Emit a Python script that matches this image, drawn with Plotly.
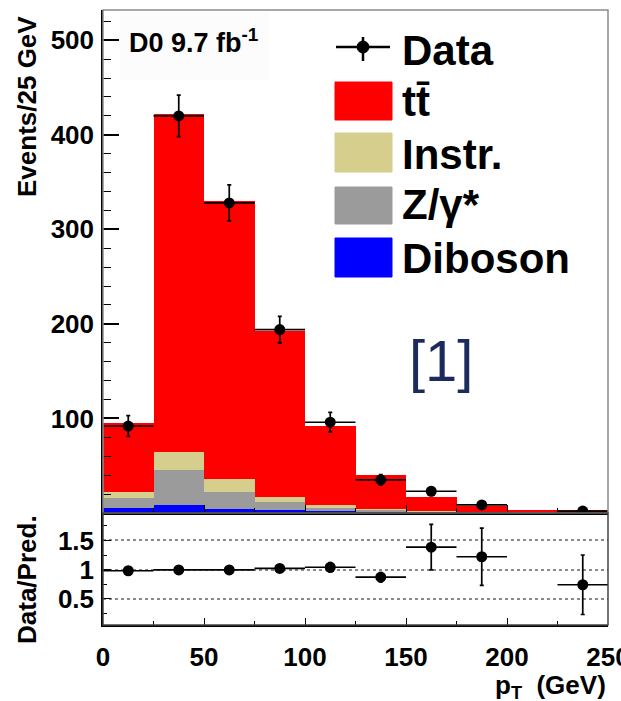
import plotly.graph_objects as go

# ---------------- data ----------------
bin_centers = [12.5, 37.5, 62.5, 87.5, 112.5, 137.5, 162.5, 187.5, 212.5, 237.5]
bin_half = [12.5] * 10

diboson = [4.8, 8.0, 4.5, 3.0, 2.0, 1.5, 0.8, 0.5, 0.3, 0.2]
zgamma = [10.6, 38.0, 17.5, 8.5, 4.0, 2.3, 1.2, 0.6, 0.3, 0.2]
instr = [6.3, 19.0, 13.5, 5.3, 2.0, 0.8, 0.5, 0.3, 0.1, 0.1]
ttbar = [73.3, 357.0, 294.5, 175.7, 84.0, 35.4, 14.5, 5.6, 2.6, 2.2]

data_x = [12.5, 37.5, 62.5, 87.5, 112.5, 137.5, 162.5, 187.5, 237.5]
data_y = [92, 420, 328, 194, 96, 35, 23, 8.5, 2]
data_err = [11, 22, 19, 14, 10.5, 5.5, 4.5, 3, 1.5]

ratio_x = [12.5, 37.5, 62.5, 87.5, 112.5, 137.5, 162.5, 187.5, 237.5]
ratio_y = [0.98, 0.995, 0.995, 1.02, 1.04, 0.87, 1.385, 1.22, 0.74]
ratio_err = [0.06, 0.05, 0.05, 0.05, 0.08, 0.08, 0.39, 0.49, 0.51]

y_ticks_top = [100, 200, 300, 400, 500]
y_ticks_ratio = [0.5, 1, 1.5]
x_ticks = [0, 50, 100, 150, 200, 250]

# ---------------- layout helpers ----------------
W, H = 621, 701
L, R, T, B = 103, 608, 10, 625  # plot area in pixels
SPLIT = 513


def px(x):
    return (x - L) / (R - L)


def py(y):
    return (B - y) / (B - T)


FONT = "Liberation Sans"
COL_RED = "#ff0000"
COL_INSTR = "#d5ce8c"
COL_Z = "#9b9b9b"
COL_DIB = "#0000ff"

fig = go.Figure()

for vals, col in [(diboson, COL_DIB), (zgamma, COL_Z), (instr, COL_INSTR), (ttbar, COL_RED)]:
    fig.add_trace(go.Bar(x=bin_centers, y=vals, width=25, marker=dict(color=col, line=dict(width=0)),
                         showlegend=False, xaxis="x", yaxis="y"))

fig.add_trace(go.Scatter(
    x=data_x, y=data_y, mode="markers", showlegend=False, xaxis="x", yaxis="y",
    marker=dict(color="black", size=11),
    error_x=dict(type="data", array=[12.5] * len(data_x), width=0, thickness=1.7, color="black"),
    error_y=dict(type="data", array=data_err, width=2, thickness=1.7, color="black"),
))

fig.add_trace(go.Scatter(
    x=ratio_x, y=ratio_y, mode="markers", showlegend=False, xaxis="x2", yaxis="y2",
    marker=dict(color="black", size=11),
    error_x=dict(type="data", array=[12.5] * len(ratio_x), width=0, thickness=1.7, color="black"),
    error_y=dict(type="data", array=ratio_err, width=2, thickness=1.7, color="black"),
))

split_frac = py(SPLIT)

tickfont = dict(family=FONT, size=26, color="black", weight="bold")

fig.update_layout(
    width=W, height=H,
    margin=dict(l=L, r=W - R, t=T, b=H - B, autoexpand=False),
    paper_bgcolor="white", plot_bgcolor="white",
    barmode="stack", bargap=0,
    xaxis=dict(domain=[0, 1], range=[0, 250], anchor="y", showticklabels=False, automargin=False,
               tickvals=x_ticks, ticks="inside", ticklen=8, tickcolor="black", tickwidth=1.2,
               minor=dict(dtick=25, ticks="inside", ticklen=5, tickcolor="black", tickwidth=1.2),
               showgrid=False, zeroline=False, showline=True, linecolor="black", linewidth=1.5),
    yaxis=dict(domain=[split_frac, 1], range=[0, 532], anchor="x", automargin=False,
               tickvals=y_ticks_top, ticks="inside", ticklen=16, tickcolor="black", tickwidth=1.5,
               minor=dict(dtick=20, ticks="inside", ticklen=8, tickcolor="black", tickwidth=1.2),
               tickfont=tickfont, ticklabelstandoff=2,
               showgrid=False, zeroline=False, showline=True, linecolor="black", linewidth=1.5),
    xaxis2=dict(domain=[0, 1], range=[0, 250], anchor="y2", matches="x", automargin=False,
                tickvals=x_ticks, ticktext=[str(v) for v in x_ticks],
                ticks="inside", ticklen=7, tickcolor="black", tickwidth=1.2,
                minor=dict(dtick=25, ticks="inside", ticklen=4, tickcolor="black", tickwidth=1.2),
                tickfont=tickfont, ticklabelstandoff=8, ticklabeloverflow="allow",
                showgrid=False, zeroline=False, showline=True, linecolor="black", linewidth=1.5),
    yaxis2=dict(domain=[0, split_frac], range=[0.05, 1.97], anchor="x2", automargin=False,
                tickvals=y_ticks_ratio, ticktext=["0.5", "1", "1.5"],
                ticks="inside", ticklen=8, tickcolor="black", tickwidth=1.2,
                minor=dict(dtick=0.25, ticks="inside", ticklen=4, tickcolor="black", tickwidth=1.0, showgrid=False),
                tickfont=tickfont, ticklabelstandoff=2,
                showgrid=True, gridcolor="#8a8a8a", griddash="dot", gridwidth=1.5,
                zeroline=False, showline=True, linecolor="black", linewidth=1.5),
)

shapes = []
# frames
shapes.append(dict(type="rect", xref="paper", yref="paper", x0=0, x1=1, y0=split_frac, y1=1,
                   line=dict(color="#8c8c8c", width=1.5), layer="above"))
shapes.append(dict(type="rect", xref="paper", yref="paper", x0=0, x1=1, y0=0, y1=split_frac,
                   line=dict(color="#444444", width=1.5), layer="above"))
# D0 label background
shapes.append(dict(type="rect", xref="paper", yref="paper", x0=px(120), x1=px(270), y0=py(80), y1=py(12),
                   fillcolor="#fcfcfc", line=dict(width=0), layer="below"))

# legend symbols
shapes.append(dict(type="line", xref="paper", yref="paper", x0=px(336), x1=px(390), y0=py(47), y1=py(47),
                   line=dict(color="black", width=2.5)))
shapes.append(dict(type="line", xref="paper", yref="paper", x0=px(363), x1=px(363), y0=py(37), y1=py(61),
                   line=dict(color="black", width=2.5)))
shapes.append(dict(type="circle", xref="paper", yref="paper", x0=px(357), x1=px(369), y0=py(53), y1=py(41),
                   fillcolor="black", line=dict(color="black", width=1)))
for (y0, y1), col in [((82, 120), COL_RED), ((133, 172), COL_INSTR), ((187, 224), COL_Z), ((238, 277), COL_DIB)]:
    shapes.append(dict(type="rect", xref="paper", yref="paper", x0=px(335), x1=px(392), y0=py(y1), y1=py(y0),
                       fillcolor=col, line=dict(color=col, width=1)))

fig.update_layout(shapes=shapes)

annotations = []
LEG = dict(family=FONT, size=42, color="black", weight="bold")
for text, yc in [("Data", 50), ("tt\u0304", 102), ("Instr.", 154), ("Z/γ*", 204), ("Diboson", 258)]:
    annotations.append(dict(text=text, xref="paper", yref="paper", x=px(400), y=py(yc),
                            xanchor="left", yanchor="middle", showarrow=False, font=LEG))

annotations.append(dict(text="D0 9.7 fb<sup>-1</sup>", xref="paper", yref="paper", x=px(127), y=py(41),
                        xanchor="left", yanchor="middle", showarrow=False,
                        font=dict(family=FONT, size=27, color="black", weight="bold")))
annotations.append(dict(text="[1]", xref="paper", yref="paper", x=px(441), y=py(360),
                        xanchor="center", yanchor="middle", showarrow=False,
                        font=dict(family=FONT, size=58, color="#1b2b5e")))
annotations.append(dict(text="Events/25 GeV", xref="paper", yref="paper", x=px(27), y=py(107),
                        xanchor="center", yanchor="middle", textangle=-90, showarrow=False,
                        font=dict(family=FONT, size=26, color="black", weight="bold")))
annotations.append(dict(text="Data/Pred.", xref="paper", yref="paper", x=px(27), y=py(580),
                        xanchor="center", yanchor="middle", textangle=-90, showarrow=False,
                        font=dict(family=FONT, size=26, color="black", weight="bold")))
annotations.append(dict(text="p<sub>T</sub>  (GeV)", xref="paper", yref="paper", x=px(608), y=py(686),
                        xanchor="right", yanchor="middle", showarrow=False,
                        font=dict(family=FONT, size=26, color="black", weight="bold")))
fig.update_layout(annotations=annotations)

fig.write_html("out.html")
